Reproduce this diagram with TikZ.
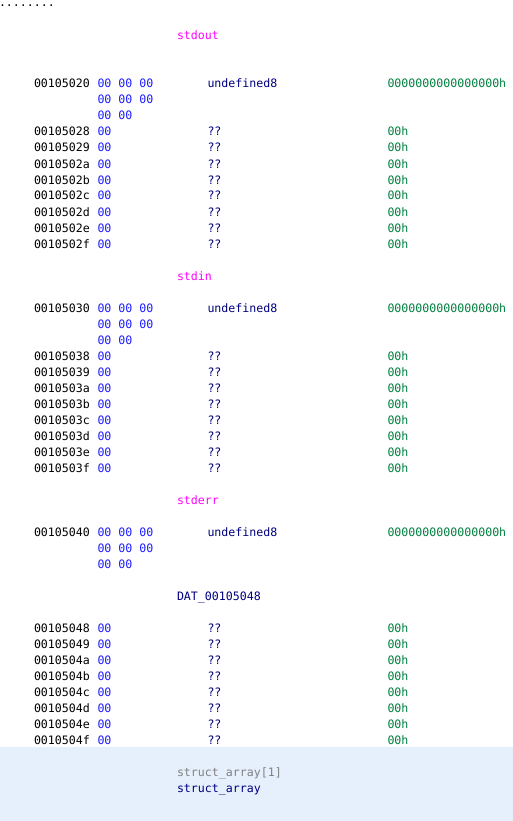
\documentclass[tikz,border=0pt]{standalone}
\usepackage{fontspec}
\setmonofont{DejaVu Sans Mono}
\definecolor{bytecol}{RGB}{30,30,255}
\definecolor{mncol}{RGB}{0,0,128}
\definecolor{valcol}{RGB}{0,128,64}
\definecolor{lblcol}{RGB}{255,0,255}
\definecolor{greycol}{RGB}{128,128,128}
\definecolor{selbg}{RGB}{230,240,252}
\begin{document}
\begin{tikzpicture}[x=1pt,y=-1pt,
  txt/.style = {anchor=base west,inner sep=0pt,outer sep=0pt,font=\ttfamily\fontsize{11.6}{14}\selectfont},
  addr/.style = {txt,text=black},
  bytes/.style = {txt,text=bytecol},
  mn/.style = {txt,text=mncol},
  val/.style = {txt,text=valcol},
  lbl/.style = {txt,text=lblcol},
  datlbl/.style = {txt,text=mncol},
  grey/.style = {txt,text=greycol}]
\useasboundingbox (0,0) rectangle (513,821);
\fill[white] (0,0) rectangle (513,821);
\fill[selbg] (0,747) rectangle (513,821);
\node[txt] (dots) at (-1,7) {........};
% labels
\foreach \k/\l in {2/stdout, 17/stdin, 31/stderr}
    \node[lbl] (lbl-\l) at (177,{8+16*\k}) {\l};
\node[datlbl] (lbl-dat) at (177,{8+16*37}) {DAT\_00105048};
% undefined8 blocks
\foreach \k/\b in {5/2, 19/3, 33/4} {
    \node[addr] (addr-\b0) at (34,{8+16*\k}) {001050\b0};
    \node[bytes] (bytes-\b0) at (97.5,{8+16*\k}) {00 00 00};
    \node[bytes] (bytes-\b0b) at (97.5,{8+16*(\k+1)}) {00 00 00};
    \node[bytes] (bytes-\b0c) at (97.5,{8+16*(\k+2)}) {00 00};
    \node[mn] (mn-\b0) at (207.5,{8+16*\k}) {undefined8};
    \node[val] (val-\b0) at (387.5,{8+16*\k}) {0000000000000000h};
}
% single bytes
\foreach \k/\b in {8/2, 22/3, 39/4}
    \foreach \c [count=\j from 0] in {8,9,a,b,c,d,e,f} {
        \node[addr] (addr-\b\c) at (34,{8+16*(\k+\j)}) {001050\b\c};
        \node[bytes] (bytes-\b\c) at (97.5,{8+16*(\k+\j)}) {00};
        \node[mn] (mn-\b\c) at (207.5,{8+16*(\k+\j)}) {??};
        \node[val] (val-\b\c) at (387.5,{8+16*(\k+\j)}) {00h};
    }
% struct
\node[grey] (sa-type) at (177,{8+16*48}) {struct\_array[1]};
\node[datlbl] (sa-name) at (177,{8+16*49}) {struct\_array};
\end{tikzpicture}
\end{document}
